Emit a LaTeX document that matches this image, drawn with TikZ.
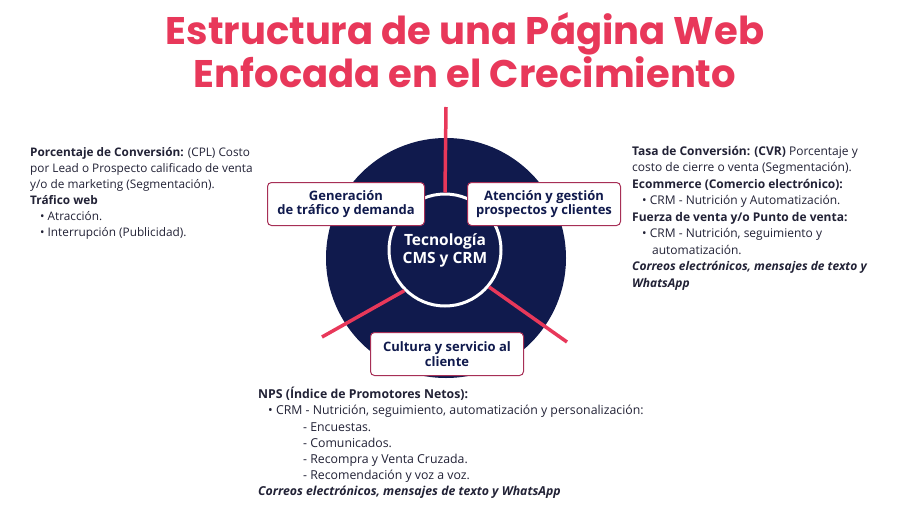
\documentclass[tikz,border=0pt]{standalone}
\usepackage{fontspec}
\setmainfont{Open Sans}
\newfontfamily\titlefont{Poppins}
\definecolor{rosa}{HTML}{E8385A}
\definecolor{navy}{HTML}{101A4D}
\definecolor{txt}{HTML}{222236}
\begin{document}
\begin{tikzpicture}[x=1pt,y=-1pt,
  lbl/.style={draw=rosa!70!navy, line width=1pt, fill=white, rounded corners=4pt, font=\bfseries\fontsize{13}{14.5}\selectfont, text=navy, align=center, minimum width=155pt, minimum height=43pt, inner sep=2pt},
  spoke/.style={draw=rosa, line width=3.5pt},
  body/.style={anchor=north west, align=left, text=txt, font=\fontsize{11.8}{16}\selectfont, inner sep=0pt}]
\useasboundingbox (0,0) rectangle (900,506);
\fill[white] (0,0) rectangle (900,506);
\node[font=\titlefont\bfseries\fontsize{38.5}{40}\selectfont, text=rosa, align=center] (title) at (465,50) {Estructura de una Página Web\\Enfocada en el Crecimiento};
\node[circle, fill=navy, minimum size=240pt, inner sep=0pt] (big) at (446,258) {};
\coordinate (t1) at (446,107);
\coordinate (t2) at (322,337);
\coordinate (t3) at (567,342);
\node[circle, fill=navy, draw=white, line width=3pt, minimum size=112pt, inner sep=0pt] (core) at (445,250) {};
\draw[spoke] (core.north) -- (t1);
\draw[spoke] (core.-135) -- (t2);
\draw[spoke] (core.-40) -- (t3);
\node[font=\bfseries\fontsize{15.5}{18}\selectfont, text=white, align=center] (coretxt) at (core) {Tecnología\\CMS y CRM};
\node[lbl, minimum width=157pt] (gen) at (346,204) {Generación\\de tráfico y demanda};
\node[lbl, minimum width=153pt] (ate) at (544,204) {Atención y gestión\\prospectos y clientes};
\node[lbl, minimum width=153pt] (cul) at (447,354) {Cultura y servicio al\\cliente};
\node[body] (left) at (30,147) {\textbf{Porcentaje de Conversión:} (CPL) Costo\\por Lead o Prospecto calificado de venta\\y/o de marketing (Segmentación).\\\textbf{Tráfico web}\\\hspace*{10pt}• Atracción.\\\hspace*{10pt}• Interrupción (Publicidad).};
\node[body, font=\fontsize{12}{16.5}\selectfont] (right) at (632,146) {\textbf{Tasa de Conversión: (CVR)} Porcentaje y\\costo de cierre o venta (Segmentación).\\\textbf{Ecommerce (Comercio electrónico):}\\\hspace*{10pt}• CRM - Nutrición y Automatización.\\\textbf{Fuerza de venta y/o Punto de venta:}\\\hspace*{10pt}• CRM - Nutrición, seguimiento y\\\hspace*{20pt}automatización.\\\textbf{\itshape Correos electrónicos, mensajes de texto y}\\\textbf{\itshape WhatsApp}};
\node[body, font=\fontsize{12.3}{16.2}\selectfont] (bot) at (258,387) {\textbf{NPS (Índice de Promotores Netos):}\\\hspace*{10pt}• CRM - Nutrición, seguimiento, automatización y personalización:\\\hspace*{45pt}- Encuestas.\\\hspace*{45pt}- Comunicados.\\\hspace*{45pt}- Recompra y Venta Cruzada.\\\hspace*{45pt}- Recomendación y voz a voz.\\\textbf{\itshape Correos electrónicos, mensajes de texto y WhatsApp}};
\end{tikzpicture}
\end{document}
